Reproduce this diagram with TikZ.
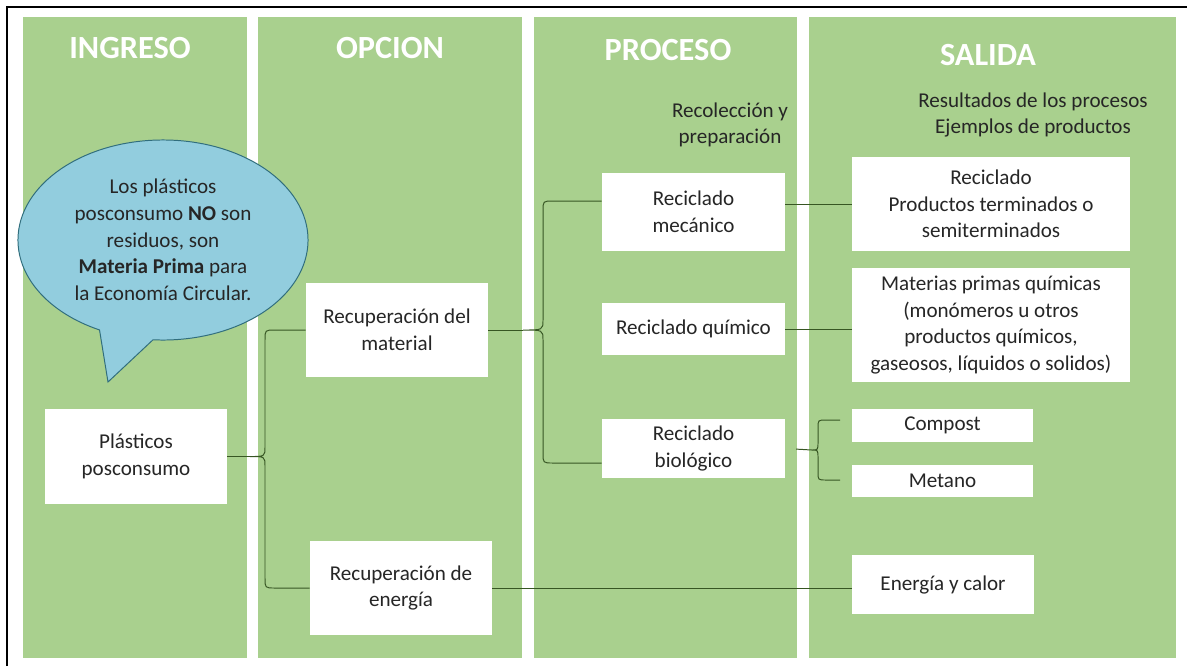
\documentclass[tikz,border=0pt]{standalone}
\usepackage{fontspec}
\setmainfont{Carlito}
\usetikzlibrary{positioning, calc, shapes.callouts}

\definecolor{colGreen}{RGB}{169,208,142}
\definecolor{bubbleBlue}{RGB}{146,205,222}
\definecolor{bubbleLine}{RGB}{49,110,125}
\definecolor{linkGreen}{RGB}{55,86,35}
\definecolor{textGrey}{RGB}{38,38,38}

\begin{document}
\begin{tikzpicture}[x=0.025cm, y=-0.025cm,
		Header/.style={text=white, font=\fontsize{23}{28}\selectfont\bfseries},
		Note/.style={text=textGrey, align=center, font=\fontsize{15}{19}\selectfont},
		Box/.style={rectangle, fill=white, text=textGrey, align=center, inner sep=0pt, font=\fontsize{15}{19}\selectfont},
		Link/.style={draw=linkGreen, line width=0.7pt}]

	\useasboundingbox (0,0) rectangle (1187,666);

	% Columns
	\fill[colGreen] (23,17) rectangle (247,658);
	\fill[colGreen] (258,17) rectangle (522,658);
	\fill[colGreen] (534,17) rectangle (797,658);
	\fill[colGreen] (809,17) rectangle (1176,658);

	\draw[line width=1.2pt] (7,666) -- (7,7) -- (1187,7);

	% Headers
	\node[Header] (Ingreso) at (130,48) {INGRESO};
	\node[Header] (Opcion) at (390,48) {OPCION};
	\node[Header] (Proceso) at (668,50) {PROCESO};
	\node[Header] (Salida) at (988,55) {SALIDA};

	\node[Note] (Recoleccion) at (730,125) {Recolección y\\preparación};
	\node[Note] (Resultados) at (1033,115) {Resultados de los procesos\\Ejemplos de productos};

	% Callout
	\node[ellipse callout, Note, fill=bubbleBlue, draw=bubbleLine, line width=0.7pt, minimum width=7.25cm, minimum height=5cm, inner sep=0pt,
		callout absolute pointer={(108,382)}, callout pointer arc=22] (Bubble) at (163,240)
		{Los plásticos\\posconsumo \textbf{NO} son\\residuos, son\\\textbf{Materia Prima} para\\la Economía Circular.};

	% Nodes
	\node[Box, minimum width=4.55cm, minimum height=2.375cm] (Plasticos) at (136,456.5) {Plásticos\\posconsumo};

	\node[Box, minimum width=4.55cm, minimum height=2.35cm] (RecMaterial) at (397,330) {Recuperación del\\material};
	\node[Box, minimum width=4.55cm, minimum height=2.35cm] (RecEnergia) at (401,588) {Recuperación de\\energía};

	\node[Box, minimum width=4.575cm, minimum height=1.95cm] (Mecanico) at (693.5,212) {Reciclado\\mecánico};
	\node[Box, minimum width=4.575cm, minimum height=1.3cm] (Quimico) at (693.5,329) {Reciclado químico};
	\node[Box, minimum width=4.575cm, minimum height=1.475cm] (Biologico) at (693.5,448.5) {Reciclado\\biológico};

	\node[Box, minimum width=6.95cm, minimum height=2.35cm] (Productos) at (991,204) {Reciclado\\Productos terminados o\\semiterminados};
	\node[Box, minimum width=6.95cm, minimum height=2.85cm] (Materias) at (991,325) {Materias primas químicas\\(monómeros u otros\\productos químicos,\\gaseosos, líquidos o solidos)};
	\node[Box, minimum width=4.525cm, minimum height=0.825cm] (Compost) at (942.5,425.5) {Compost};
	\node[Box, minimum width=4.525cm, minimum height=0.8cm] (Metano) at (942.5,481) {Metano};
	\node[Box, minimum width=4.55cm, minimum height=1.475cm] (Energia) at (943,584.5) {Energía y calor};

	% Lines
	\coordinate (TipA) at (250,456.5);
	\draw[Link] (Plasticos.east) -- (TipA);
	\draw[Link] (RecMaterial.west) -- (275,330) .. controls (265,330) .. (265,340) -- (265,446.5)
		.. controls (265,456.5) .. (TipA) .. controls (265,456.5) .. (265,466.5) -- (265,578)
		.. controls (265,588) .. (275,588) -- (RecEnergia.west);

	\coordinate (TipB) at (523,330);
	\draw[Link] (RecMaterial.east) -- (TipB);
	\draw[Link] ($(Mecanico.west)+(0,-11)$) -- (553,201) .. controls (543,201) .. (543,211) -- (543,320)
		.. controls (543,330) .. (TipB) .. controls (543,330) .. (543,340) -- (543,453)
		.. controls (543,463) .. (553,463) -- ($(Biologico.west)+(0,14.5)$);

	\coordinate (TipC) at (812,450);
	\draw[Link, shorten <=0.27cm] (Biologico.east) -- (TipC);
	\draw[Link] (840,420) -- (826,420) .. controls (818,420) .. (818,428) -- (818,442)
		.. controls (818,450) .. (TipC) .. controls (818,450) .. (818,458) -- (818,472)
		.. controls (818,480) .. (826,480) -- (840,480);

	\draw[Link] (Mecanico.east |- Productos.west) -- (Productos.west);
	\draw[Link] (Quimico.east) -- (Quimico.east -| Materias.west);
	\draw[Link] (RecEnergia.east) -- (RecEnergia.east -| Energia.west);
\end{tikzpicture}
\end{document}
